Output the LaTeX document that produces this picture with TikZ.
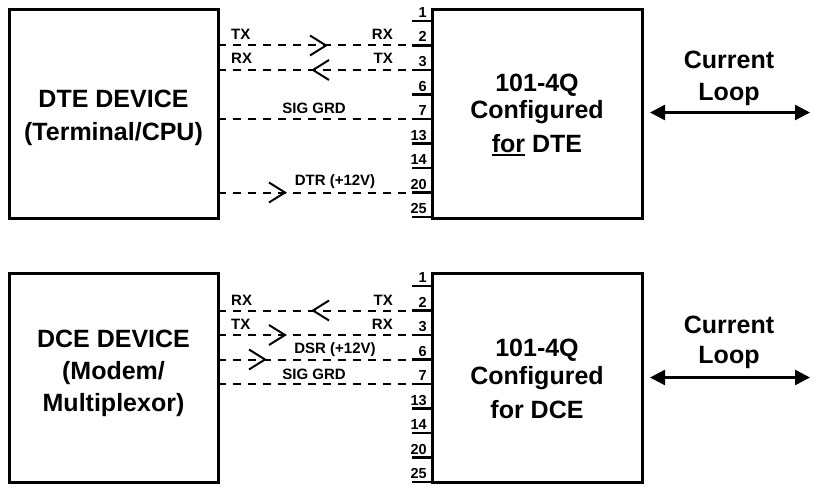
\documentclass[tikz,border=0pt]{standalone}
\usepackage{fontspec}
\setmainfont{Liberation Sans}
\usetikzlibrary{arrows.meta}
\begin{document}
\begin{tikzpicture}[x=1pt,y=-1pt,
  box/.style={draw, line width=3pt, inner sep=0pt, outer sep=0pt},
  big/.style={font=\fontsize{25}{30}\selectfont\bfseries, inner sep=0pt, anchor=base},
  lbl/.style={font=\fontsize{15}{17}\selectfont\bfseries, inner sep=0pt},
  pinnum/.style={font=\fontsize{14.5}{16}\selectfont\bfseries, inner sep=0pt, anchor=base east},
  tick/.style={line width=2.5pt},
  sig/.style={line width=2pt, dash pattern=on 8pt off 7pt},
  chev/.style={line width=2pt},
  chevR/.pic={\draw[chev] (-16,-10) -- (0,0) -- (-16,10);},
  chevL/.pic={\draw[chev] (16,-10) -- (0,0) -- (16,10);},
  looparrow/.style={line width=2.5pt, {Triangle[length=15pt,width=15pt]}-{Triangle[length=15pt,width=15pt]}}
]
\useasboundingbox (0,0) rectangle (816,487);

% ---------------- top section ----------------
\node[box, minimum width=209pt, minimum height=208.5pt] (dte) at (113.5,113.75) {};
\node[box, minimum width=210pt, minimum height=208.5pt] (mte) at (537,113.75) {};

\node[big] (dte1) at (113.5,107) {DTE DEVICE};
\node[big] (dte2) at (113.5,140) {(Terminal/CPU)};

\node[big] (mte1) at (537,91) {101-4Q};
\node[big] (mte2) at (537,118) {Configured};
\node[big] (mte3) at (537,152.5) {{\setbox0\hbox{for}\rlap{\rule[-3pt]{\wd0}{1.6pt}}\box0} DTE};

\foreach \n [count=\i from 0] in {1,2,3,6,7,13,14,20,25} {
  \coordinate (ta\n) at (412,21+24.5*\i);
  \draw[tick] (ta\n) -- (ta\n -| mte.west);
  \path (ta\n) ++(15,-3.5) node[pinnum] {\n};
}

\draw[sig] (ta2 -| dte.east) -- (ta2);
\draw[sig] (ta3 -| dte.east) -- (ta3);
\draw[sig] (ta7 -| dte.east) -- (ta7);
\draw[sig] (ta20 -| dte.east) -- (ta20);

\pic at (326,45.5) {chevR};
\pic at (313,70) {chevL};
\pic at (285,192.5) {chevR};

\node[lbl, anchor=base west] (ltx) at (231,39.5) {TX};
\node[lbl, anchor=base east] (lrx) at (393,39.5) {RX};
\node[lbl, anchor=base west] (ltx2) at (231,63.5) {RX};
\node[lbl, anchor=base east] (lrx2) at (393,63.5) {TX};
\node[lbl, anchor=base] (lsg) at (314,113) {SIG GRD};
\node[lbl, anchor=base] (ldtr) at (335,185) {DTR (+12V)};

\node[big] (cur1) at (729,68) {Current};
\node[big] (loop1) at (729,100) {Loop};
\coordinate (la1) at (650,112.5);
\coordinate (lb1) at (810,112.5);
\draw[looparrow] (la1) -- (lb1);

% ---------------- bottom section ----------------
\node[box, minimum width=209pt, minimum height=209pt] (dce) at (113.5,377.5) {};
\node[box, minimum width=210pt, minimum height=209pt] (mce) at (537,377.5) {};

\node[big] (dce1) at (113.5,347) {DCE DEVICE};
\node[big] (dce2) at (113.5,379) {(Modem/};
\node[big] (dce3) at (113.5,411) {Multiplexor)};

\node[big] (mce1) at (537,356) {101-4Q};
\node[big] (mce2) at (537,384) {Configured};
\node[big] (mce3) at (537,418) {for DCE};

\foreach \n [count=\i from 0] in {1,2,3,6,7,13,14,20,25} {
  \coordinate (tb\n) at (412,286+24.5*\i);
  \draw[tick] (tb\n) -- (tb\n -| mce.west);
  \path (tb\n) ++(15,-3.5) node[pinnum] {\n};
}

\draw[sig] (tb2 -| dce.east) -- (tb2);
\draw[sig] (tb3 -| dce.east) -- (tb3);
\draw[sig] (tb6 -| dce.east) -- (tb6);
\draw[sig] (tb7 -| dce.east) -- (tb7);

\pic at (313,310.5) {chevL};
\pic at (285,335) {chevR};
\pic at (265,359.5) {chevR};

\node[lbl, anchor=base west] (brx) at (231,305) {RX};
\node[lbl, anchor=base east] (btx) at (393,305) {TX};
\node[lbl, anchor=base west] (btx2) at (231,329) {TX};
\node[lbl, anchor=base east] (brx2) at (393,329) {RX};
\node[lbl, anchor=base] (bdsr) at (335,353) {DSR (+12V)};
\node[lbl, anchor=base] (bsg) at (314,379) {SIG GRD};

\node[big] (cur2) at (729,333) {Current};
\node[big] (loop2) at (729,363) {Loop};
\coordinate (la2) at (650,377.5);
\coordinate (lb2) at (810,377.5);
\draw[looparrow] (la2) -- (lb2);
\end{tikzpicture}
\end{document}
